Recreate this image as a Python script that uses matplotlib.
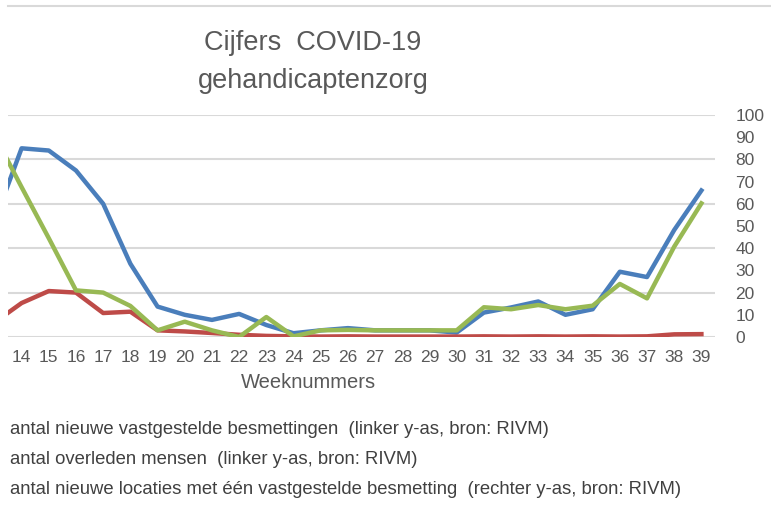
import matplotlib
matplotlib.use("Agg")
import matplotlib.pyplot as plt

# Week 13 lies just outside the visible (cropped) area; it only shapes the first segment.
weeks = list(range(13, 40))
besmettingen = [52, 85, 84, 75, 60, 33, 13.7, 10, 7.7, 10.4, 5.4, 1.7, 3, 4, 3, 3, 3, 2,
                11, 13.3, 16, 10, 12.5, 29.4, 27, 48.2, 66]
overleden = [6.5, 15.3, 20.7, 20, 10.8, 11.4, 3, 2.5, 1.8, 1, 0.5, 0.3, 0.2, 0.3, 0.2, 0.2, 0.2, 0.2,
             0.3, 0.2, 0.3, 0.2, 0.3, 0.2, 0.3, 1.2, 1.3]
locaties = [91, 67.5, 44.5, 21, 20, 14, 3, 6.9, 3, 0, 9, 0.3, 3, 3.2, 3, 3, 3, 3,
            13.4, 12.5, 14.4, 12.5, 14.1, 23.9, 17.4, 40.7, 60.2]
right_ticks = list(range(0, 101, 10))
legend_texts = [
    "antal nieuwe vastgestelde besmettingen  (linker y-as, bron: RIVM)",
    "antal overleden mensen  (linker y-as, bron: RIVM)",
    "antal nieuwe locaties met één vastgestelde besmetting  (rechter y-as, bron: RIVM)",
]

plt.rcParams['font.family'] = ['Liberation Sans', 'DejaVu Sans']
txt = '#595959'

fig = plt.figure(figsize=(7.71, 5.19), dpi=100)
fig.patch.set_facecolor('white')
W, H = 771, 519
L, R, T, B = 8, 715, 115, 337
ax = fig.add_axes([L / W, 1 - B / H, (R - L) / W, (B - T) / H])
ax2 = ax.twinx()

ax.plot(weeks, besmettingen, color='#4a7ebb', lw=3.2, solid_joinstyle='round', zorder=3)
ax.plot(weeks, overleden, color='#be4b48', lw=3.2, solid_joinstyle='round', zorder=4)
ax.plot(weeks, locaties, color='#98b954', lw=3.2, solid_joinstyle='round', zorder=5)

ax.set_xlim(13.5, 39.5)
ax.set_ylim(0, 100)
ax.set_yticks(list(range(0, 101, 20)))
ax.yaxis.grid(True, color='#d9d9d9', lw=1.5)
ax.set_axisbelow(True)
for s in ax.spines.values():
    s.set_visible(False)
ax.tick_params(axis='y', left=False, labelleft=False, right=False, labelright=False)

ax2.set_ylim(0, 100)
ax2.set_yticks(right_ticks)
ax2.set_yticklabels([str(v) for v in right_ticks])
for s in ax2.spines.values():
    s.set_visible(False)
ax2.tick_params(axis='y', left=False, right=False, pad=11, labelsize=12.5, labelcolor=txt)

ax.set_xticks(weeks[1:])
ax.set_xticklabels([str(w) for w in weeks[1:]])
ax.tick_params(axis='x', bottom=False, pad=6, labelsize=12.5, labelcolor=txt)

fig.text(308 / W, 1 - 383 / H, "Weeknummers", ha='center', va='center', fontsize=14.5, color=txt)
fig.text(313 / W, 1 - 43 / H, "Cijfers  COVID-19", ha='center', va='center', fontsize=19.5, color=txt)
fig.text(313 / W, 1 - 81 / H, "gehandicaptenzorg", ha='center', va='center', fontsize=19.5, color=txt)

for i, t in enumerate(legend_texts):
    fig.text(10 / W, 1 - (430 + 30 * i) / H, t, ha='left', va='center', fontsize=13.3, color='#404040')

fig.add_artist(plt.Line2D([8 / W, 1], [1 - 6 / H, 1 - 6 / H], color='#d9d9d9', lw=1.5))

fig.savefig('out.png', dpi=100, facecolor='white')
